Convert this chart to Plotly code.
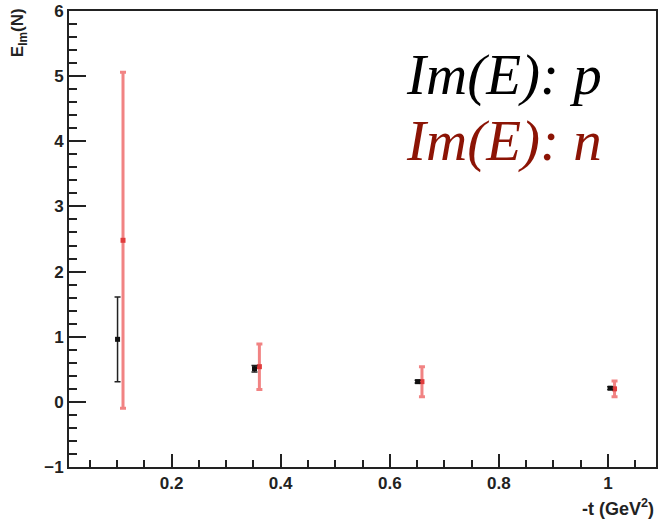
import plotly.graph_objects as go

# Data
t_p = [0.101, 0.352, 0.651, 1.004]
e_p = [0.96, 0.51, 0.31, 0.21]
err_p = [0.65, 0.05, 0.02, 0.02]

t_n = [0.111, 0.361, 0.659, 1.012]
e_n = [2.48, 0.54, 0.31, 0.20]
err_n = [2.58, 0.35, 0.23, 0.12]

x_ticks = [0.2, 0.4, 0.6, 0.8, 1.0]
x_tick_labels = ["0.2", "0.4", "0.6", "0.8", "1"]
y_ticks = [-1, 0, 1, 2, 3, 4, 5, 6]

fig = go.Figure()
fig.add_trace(go.Scatter(
    x=t_n, y=e_n, mode="markers",
    marker=dict(symbol="square", size=5, color="#e03c3c"),
    error_y=dict(type="data", array=err_n, color="rgba(238,100,100,0.8)", thickness=3, width=3),
    showlegend=False))
fig.add_trace(go.Scatter(
    x=t_p, y=e_p, mode="markers",
    marker=dict(symbol="square", size=5, color="#111111"),
    error_y=dict(type="data", array=err_p, color="#222222", thickness=1.5, width=3),
    showlegend=False))

tickfont = dict(family="Liberation Sans", size=17, color="#222222", weight="bold")
fig.update_layout(
    width=660, height=522,
    margin=dict(l=69, r=2, t=10, b=55),
    plot_bgcolor="white", paper_bgcolor="white",
    xaxis=dict(range=[0.012, 1.088], tickvals=x_ticks, ticktext=x_tick_labels,
               ticks="inside", ticklen=13, tickwidth=2, tickcolor="#222",
               showline=True, linecolor="#222", linewidth=2, mirror=True,
               showgrid=False, zeroline=False, tickfont=tickfont,
               minor=dict(dtick=0.05, tick0=0, ticks="inside", ticklen=7, tickwidth=2, tickcolor="#222")),
    yaxis=dict(range=[-1, 6], tickvals=y_ticks,
               ticks="inside", ticklen=17, tickwidth=2, tickcolor="#222",
               showline=True, linecolor="#222", linewidth=2, mirror=True,
               showgrid=False, zeroline=False, tickfont=tickfont,
               minor=dict(dtick=0.2, tick0=0, ticks="inside", ticklen=8, tickwidth=2, tickcolor="#222")),
)

fig.add_annotation(text="E<sub>Im</sub>(N)", xref="paper", yref="paper",
                   x=-0.084, y=1.011, xanchor="center", yanchor="top", textangle=-90,
                   showarrow=False, font=dict(family="Liberation Sans", size=17, color="#222", weight="bold"))
fig.add_annotation(text="-t (GeV<sup>2</sup>)", xref="paper", yref="paper",
                   x=1.0, y=-0.088, xanchor="right", yanchor="middle",
                   showarrow=False, font=dict(family="Liberation Sans", size=18, color="#222", weight="bold"))
fig.add_annotation(text="<i>Im(E): p</i>", xref="paper", yref="paper",
                   x=0.57, y=0.86, xanchor="left", yanchor="middle",
                   showarrow=False, font=dict(family="Liberation Serif", size=57, color="black"))
fig.add_annotation(text="<i>Im(E): n</i>", xref="paper", yref="paper",
                   x=0.57, y=0.715, xanchor="left", yanchor="middle",
                   showarrow=False, font=dict(family="Liberation Serif", size=57, color="#8c1405"))

fig.write_html("out.html", config={"displayModeBar": False},
               post_script="document.body.style.margin='0';")
